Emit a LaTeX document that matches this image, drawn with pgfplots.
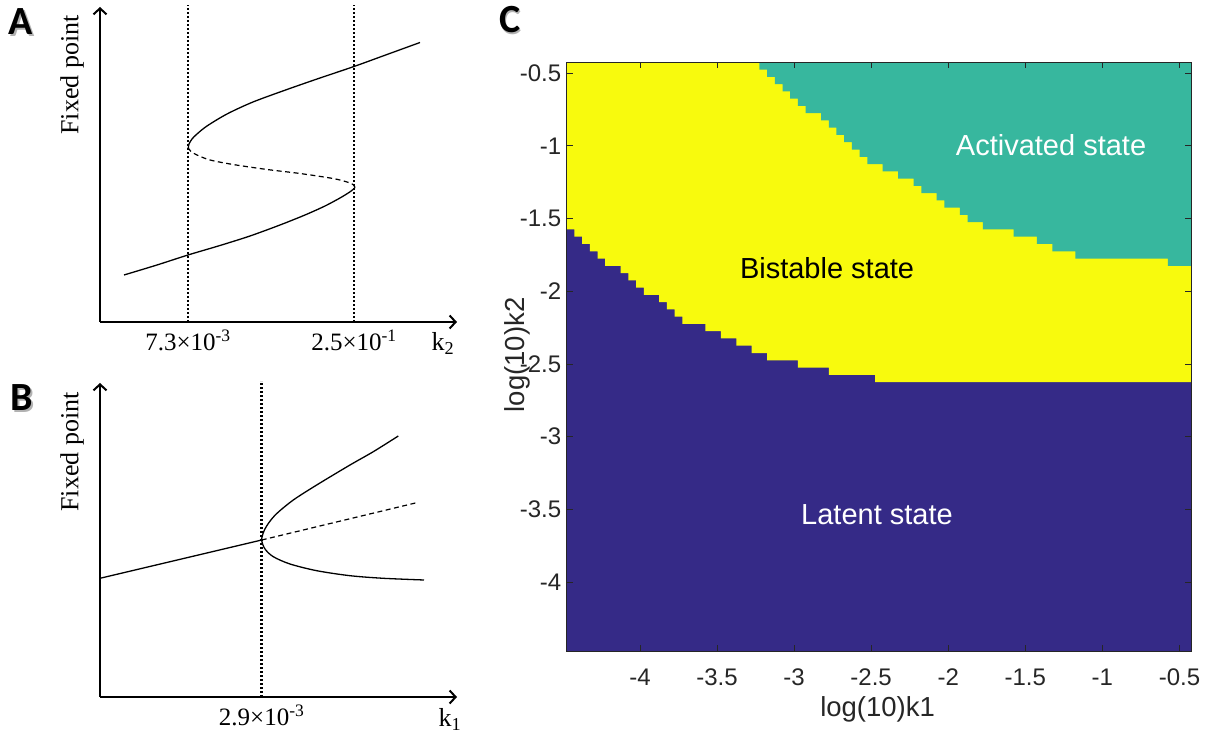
\documentclass[border=0pt]{standalone}
\usepackage{fontspec}
\usepackage{pgfplots}
\pgfplotsset{compat=1.18}
\usetikzlibrary{arrows.meta}
\setmainfont{Liberation Serif}
\newfontfamily\csans{Liberation Sans}
\newfontfamily\lettfont{Carlito}
\definecolor{pblue}{RGB}{53,42,135}
\definecolor{pteal}{RGB}{55,183,158}
\definecolor{pyellow}{RGB}{248,250,13}
\definecolor{mgray}{RGB}{38,38,38}
\pgfplotsset{
  bifaxis/.style={
    anchor=south west, scale only axis, axis lines=left, clip=false,
    axis line style={line width=2.3pt, -{Straight Barb[length=6pt,width=13pt,line width=2pt]}},
    ytick=\empty, major tick length=0pt,
    xticklabel style={anchor=base, yshift=-29pt, font=\fontsize{25}{25}\selectfont},
  },
  solidc/.style={black, line width=1.3pt, smooth, tension=0.5},
  dashc/.style={black, line width=1.2pt, dash pattern=on 5pt off 3.5pt},
  dotc/.style={black, line width=2.6pt, dash pattern=on 2pt off 2pt},
}
\begin{document}
\begin{tikzpicture}[x=1pt,y=1pt]
\useasboundingbox (0,0) rectangle (1212,738);

% ---------- Panel A ----------
\begin{axis}[bifaxis, at={(100,416)}, width=357pt, height=315pt,
  xmin=0, xmax=357, ymin=0, ymax=315,
  xtick={88,254}, xticklabels={7.3×10\textsuperscript{-3}, 2.5×10\textsuperscript{-1}}]
\addplot[dotc] coordinates {(88,0) (88,317)};
\addplot[dotc] coordinates {(254,0) (254,317)};
\addplot[solidc] coordinates {(24,47) (57,57) (88,67) (120,76.5) (150,86) (180,97) (205,107) (225,116) (240,124) (249,129.5) (253,132.5) (255,134.5)};
\addplot[dashc, smooth, tension=0.5] coordinates {(255,134.5) (253,137.5) (247,140) (233,143.5) (200,148.5) (167,152.5) (133,157.5) (110,162) (97,167) (91,170.5) (88.3,174)};
\addplot[solidc] coordinates {(88.3,174) (89,178) (92,183) (97,188) (107,196) (127,208) (153,220) (187,232.5) (220,244) (254,255.5) (287,267.5) (320,279.5)};
\node[rotate=90, font=\fontsize{26}{26}\selectfont] at (axis cs:-28,247) {Fixed point};
\node[anchor=base, font=\fontsize{26}{26}\selectfont] at (axis cs:343,-29) {k\textsubscript{2}};
\end{axis}

% ---------- Panel B ----------
\begin{axis}[bifaxis, at={(100,41)}, width=357pt, height=314pt,
  xmin=0, xmax=357, ymin=0, ymax=314,
  xtick={161.7}, xticklabels={2.9×10\textsuperscript{-3}}]
\addplot[dotc] coordinates {(161.7,0) (161.7,316)};
\addplot[black, line width=1.3pt] coordinates {(0,118.7) (161.7,157)};
\addplot[dashc] coordinates {(161.7,157) (318.3,194.7)};
\addplot[solidc] coordinates {(324,117) (283.3,118.7) (250,121.3) (216.7,126.3) (190,133) (173.3,140.3) (165,148) (161.7,157) (164,166) (169,174.5) (177,183.7) (193.3,197) (216.7,212) (250,232) (273.3,245.3) (298.3,261)};
\node[rotate=90, font=\fontsize{26}{26}\selectfont] at (axis cs:-28,245) {Fixed point};
\node[anchor=base, font=\fontsize{26}{26}\selectfont] at (axis cs:350,-30) {k\textsubscript{1}};
\end{axis}

% ---------- Panel C ----------
\begin{scope}[shift={(566.7,87)}]
\begin{axis}[name=cax, at={(0,0)}, anchor=south west, scale only axis,
  width=624.3pt, height=588.7pt,
  xmin=-4.475, xmax=-0.425, ymin=-4.475, ymax=-0.425,
  xtick={-4,-3.5,-3,-2.5,-2,-1.5,-1,-0.5},
  xticklabels={-4,-3.5,-3,-2.5,-2,-1.5,-1,-0.5},
  ytick={-4,-3.5,-3,-2.5,-2,-1.5,-1,-0.5},
  yticklabels={-4,-3.5,-3,-2.5,-2,-1.5,-1,-0.5},
  tick align=inside, major tick length=6pt, axis on top,
  axis line style={mgray, line width=0.8pt},
  tick style={mgray, line width=0.8pt},
  tick label style={font=\csans\fontsize{24}{24}\selectfont, text=mgray},
  xticklabel style={yshift=-14pt},
  yticklabel style={xshift=-2pt},
  xlabel={log(10)k1}, ylabel={log(10)k2},
  label style={font=\csans\fontsize{27.5}{27.5}\selectfont, text=mgray},
  xlabel style={at={(axis description cs:0.498,-0.0985)}, anchor=center},
  ylabel style={at={(axis description cs:-0.0796,0.503)}, anchor=center},
]
\addplot[fill=pblue, draw=none] coordinates {(-4.475,-4.475) (-0.425,-4.475) (-0.425,-0.425) (-4.475,-0.425)} -- cycle;
\addplot[fill=pyellow, draw=none] coordinates {
(-4.475,-0.425)
(-4.475,-1.575) (-4.425,-1.575)
(-4.425,-1.625) (-4.375,-1.625)
(-4.375,-1.675) (-4.325,-1.675)
(-4.325,-1.725) (-4.275,-1.725)
(-4.275,-1.775) (-4.225,-1.775)
(-4.225,-1.825) (-4.125,-1.825)
(-4.125,-1.875) (-4.075,-1.875)
(-4.075,-1.925) (-4.025,-1.925)
(-4.025,-1.975) (-3.975,-1.975)
(-3.975,-2.025) (-3.875,-2.025)
(-3.875,-2.075) (-3.825,-2.075)
(-3.825,-2.125) (-3.775,-2.125)
(-3.775,-2.175) (-3.725,-2.175)
(-3.725,-2.225) (-3.575,-2.225)
(-3.575,-2.275) (-3.475,-2.275)
(-3.475,-2.325) (-3.375,-2.325)
(-3.375,-2.375) (-3.275,-2.375)
(-3.275,-2.425) (-3.175,-2.425)
(-3.175,-2.475) (-2.975,-2.475)
(-2.975,-2.525) (-2.775,-2.525)
(-2.775,-2.575) (-2.475,-2.575)
(-2.475,-2.625) (-0.425,-2.625)
(-0.425,-0.425)} -- cycle;
\addplot[fill=pteal, draw=none] coordinates {
(-3.225,-0.425)
(-3.225,-0.475) (-3.175,-0.475)
(-3.175,-0.525) (-3.125,-0.525)
(-3.125,-0.575) (-3.075,-0.575)
(-3.075,-0.625) (-3.025,-0.625)
(-3.025,-0.675) (-2.975,-0.675)
(-2.975,-0.725) (-2.925,-0.725)
(-2.925,-0.775) (-2.825,-0.775)
(-2.825,-0.825) (-2.775,-0.825)
(-2.775,-0.875) (-2.725,-0.875)
(-2.725,-0.925) (-2.675,-0.925)
(-2.675,-0.975) (-2.625,-0.975)
(-2.625,-1.025) (-2.575,-1.025)
(-2.575,-1.075) (-2.525,-1.075)
(-2.525,-1.125) (-2.425,-1.125)
(-2.425,-1.175) (-2.325,-1.175)
(-2.325,-1.225) (-2.225,-1.225)
(-2.225,-1.275) (-2.175,-1.275)
(-2.175,-1.325) (-2.075,-1.325)
(-2.075,-1.375) (-2.025,-1.375)
(-2.025,-1.425) (-1.925,-1.425)
(-1.925,-1.475) (-1.875,-1.475)
(-1.875,-1.525) (-1.775,-1.525)
(-1.775,-1.575) (-1.575,-1.575)
(-1.575,-1.625) (-1.425,-1.625)
(-1.425,-1.675) (-1.325,-1.675)
(-1.325,-1.725) (-1.175,-1.725)
(-1.175,-1.775) (-0.575,-1.775)
(-0.575,-1.825) (-0.425,-1.825)
(-0.425,-0.425)} -- cycle;
\node[font=\csans\fontsize{29}{29}\selectfont, text=white] at (axis cs:-1.333,-0.994) {Activated state};
\node[font=\csans\fontsize{29}{29}\selectfont, text=black] at (axis cs:-2.786,-1.840) {Bistable state};
\node[font=\csans\fontsize{29}{29}\selectfont, text=white] at (axis cs:-2.462,-3.539) {Latent state};
\end{axis}
\end{scope}

% ---------- panel letters ----------
\foreach \L/\px/\py in {A/21/716, B/22/340, C/510/718} {
  \node[font=\lettfont\bfseries\fontsize{40}{40}\selectfont, text=black!30] at (\px+1.5,\py-1.5) {\L};
  \node[font=\lettfont\bfseries\fontsize{40}{40}\selectfont] at (\px,\py) {\L};
}
\end{tikzpicture}
\end{document}
